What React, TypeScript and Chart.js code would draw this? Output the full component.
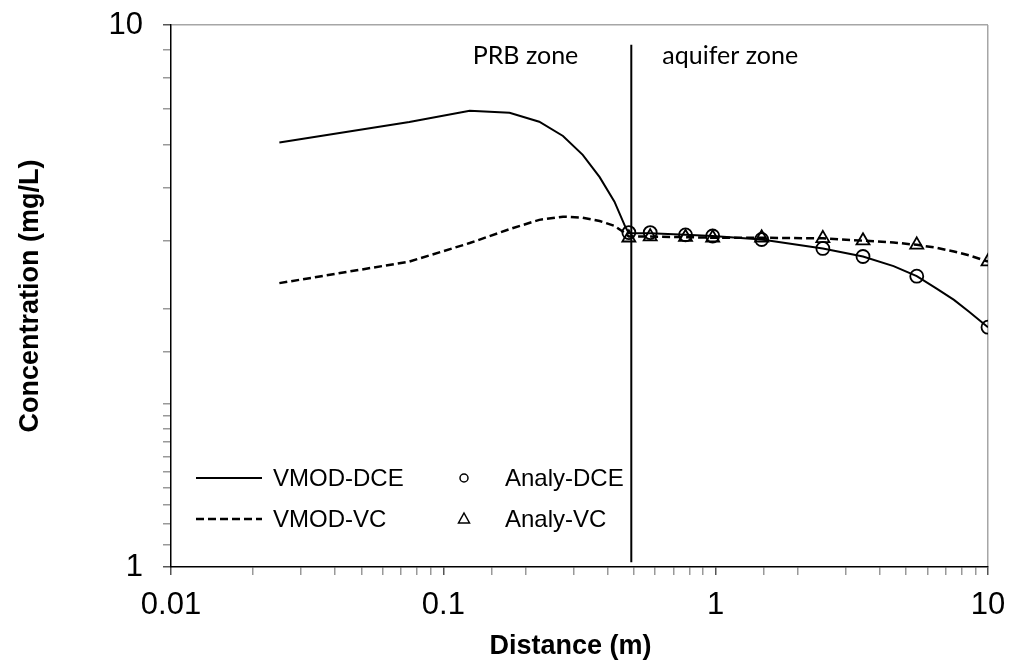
import React, { useEffect, useRef } from "react";
import { Chart, registerables } from "chart.js";
Chart.register(...registerables);

// ---- data ----
const modelX = [0.025, 0.075, 0.125, 0.175, 0.225, 0.275, 0.325, 0.375, 0.425, 0.465, 0.48, 0.575, 0.775, 0.975, 1.475, 2.475, 3.475, 4.5, 5.475, 6.5, 7.5, 8.5, 10];
const vmodDce = [6.07, 6.62, 6.95, 6.89, 6.63, 6.24, 5.76, 5.24, 4.72, 4.25, 4.13, 4.13, 4.1, 4.08, 4.02, 3.87, 3.74, 3.59, 3.44, 3.26, 3.11, 2.96, 2.77];
const vmodVc = [3.34, 3.66, 3.96, 4.2, 4.37, 4.43, 4.41, 4.35, 4.26, 4.13, 4.07, 4.07, 4.06, 4.05, 4.05, 4.04, 4.0, 3.97, 3.93, 3.88, 3.82, 3.76, 3.66];
const analyX = [0.48, 0.575, 0.775, 0.975, 1.475, 2.475, 3.475, 5.475, 10];
const analyDce = [4.14, 4.14, 4.1, 4.08, 4.02, 3.87, 3.74, 3.44, 2.77];
const analyVc = [4.05, 4.07, 4.06, 4.05, 4.05, 4.04, 4.0, 3.93, 3.66];
const xTickLabels = [0.01, 0.1, 1, 10];
const yTickLabels = [1, 10];
const boundaryX = 0.49;
const boundaryY = [1.02, 9.2];
const zoneLabels = ["PRB zone", "aquifer zone"];
const seriesNames = ["VMOD-DCE", "VMOD-VC", "Analy-DCE", "Analy-VC"];
const xTitle = "Distance (m)";
const yTitle = "Concentration (mg/L)";

const pts = (xs: number[], ys: number[]) => xs.map((x, i) => ({ x, y: ys[i] }));
const isPow10 = (v: number) => Math.abs(Math.log10(v) - Math.round(Math.log10(v))) < 1e-6;
const fmt = (v: number) => String(parseFloat(v.toPrecision(6)));
const hasLabel = (v: number, list: number[]) => list.some((t) => Math.abs(Math.log10(t) - Math.log10(v)) < 1e-6);

const overlayPlugin = {
  id: "overlay",
  afterDatasetsDraw(chart: any) {
    const ctx = chart.ctx;
    const ca = chart.chartArea;
    const bx = chart.scales.x.getPixelForValue(boundaryX);
    ctx.save();
    ctx.fillStyle = "#000";
    ctx.font = "25px Lato, 'Open Sans', sans-serif";
    ctx.textBaseline = "alphabetic";
    ctx.textAlign = "right";
    ctx.fillText(zoneLabels[0], bx - 53, ca.top + 39);
    ctx.textAlign = "left";
    ctx.fillText(zoneLabels[1], bx + 31, ca.top + 39);

    // x-axis title
    ctx.font = "bold 27px Arial, 'Liberation Sans', sans-serif";
    ctx.textAlign = "center";
    ctx.fillText(xTitle, (ca.left + ca.right) / 2 - 9, ca.bottom + 87);

    // legend
    const r1 = ca.bottom - 89;
    const r2 = ca.bottom - 48;
    const l0 = ca.left + 25;
    const l1 = ca.left + 91;
    const mx = ca.left + 293;
    ctx.font = "24px Arial, 'Liberation Sans', sans-serif";
    ctx.textBaseline = "middle";
    ctx.textAlign = "left";
    ctx.strokeStyle = "#000";
    ctx.lineWidth = 2;
    ctx.beginPath();
    ctx.moveTo(l0, r1);
    ctx.lineTo(l1, r1);
    ctx.stroke();
    ctx.lineWidth = 2.5;
    ctx.setLineDash([8, 4]);
    ctx.beginPath();
    ctx.moveTo(l0, r2);
    ctx.lineTo(l1, r2);
    ctx.stroke();
    ctx.setLineDash([]);
    ctx.fillText(seriesNames[0], ca.left + 102, r1 + 1);
    ctx.fillText(seriesNames[1], ca.left + 102, r2 + 1);
    ctx.lineWidth = 1.5;
    ctx.beginPath();
    ctx.arc(mx, r1, 4, 0, Math.PI * 2);
    ctx.stroke();
    ctx.beginPath();
    ctx.moveTo(mx, r2 - 6);
    ctx.lineTo(mx + 5.5, r2 + 4);
    ctx.lineTo(mx - 5.5, r2 + 4);
    ctx.closePath();
    ctx.stroke();
    ctx.fillText(seriesNames[2], ca.left + 334, r1 + 1);
    ctx.fillText(seriesNames[3], ca.left + 334, r2 + 1);
    ctx.restore();
  },
};

export default function App() {
  const ref = useRef<HTMLCanvasElement>(null);
  useEffect(() => {
    if (!ref.current) return;
    const chart = new Chart(ref.current, {
      type: "scatter",
      data: {
        datasets: [
          {
            label: seriesNames[2],
            data: pts(analyX, analyDce),
            showLine: false,
            pointStyle: "circle",
            pointRadius: 6.5,
            borderColor: "#000",
            backgroundColor: "rgba(0,0,0,0)",
            borderWidth: 1.8,
            order: 1,
          },
          {
            label: seriesNames[3],
            data: pts(analyX, analyVc),
            showLine: false,
            pointStyle: "triangle",
            pointRadius: 7.5,
            borderColor: "#000",
            backgroundColor: "rgba(0,0,0,0)",
            borderWidth: 1.8,
            order: 0,
          },
          {
            label: seriesNames[0],
            data: pts(modelX, vmodDce),
            showLine: true,
            pointRadius: 0,
            borderColor: "#000",
            borderWidth: 2,
            tension: 0,
            order: 3,
          },
          {
            label: seriesNames[1],
            data: pts(modelX, vmodVc),
            showLine: true,
            pointRadius: 0,
            borderColor: "#000",
            borderWidth: 2.5,
            borderDash: [8, 4],
            tension: 0,
            order: 2,
          },
          {
            label: "boundary",
            data: boundaryY.map((y) => ({ x: boundaryX, y })),
            showLine: true,
            pointRadius: 0,
            borderColor: "#000",
            borderWidth: 2,
            order: 4,
          },
        ],
      },
      options: {
        animation: false,
        responsive: false,
        layout: { padding: { top: 25, right: 23, left: 0, bottom: 0 } },
        plugins: { legend: { display: false }, tooltip: { enabled: false } },
        scales: {
          x: {
            type: "logarithmic",
            min: 0.01,
            max: 10,
            afterFit: (s: any) => {
              s.height = 94;
              s.paddingLeft = 0;
              s.paddingRight = 0;
            },
            border: { display: true, color: "#000", width: 1.5 },
            grid: {
              drawOnChartArea: true,
              color: (c: any) => (c.tick && Math.abs(c.tick.value - 10) < 1e-6 ? "#a6a6a6" : "rgba(0,0,0,0)"),
              tickColor: (c: any) => (c.tick && isPow10(c.tick.value) ? "#555" : "#999"),
              tickLength: 8,
              lineWidth: 1.5,
            },
            ticks: {
              autoSkip: false,
              maxRotation: 0,
              padding: 12,
              color: "#000",
              font: { family: "Arial, 'Liberation Sans', sans-serif", size: 31 },
              callback: (v: any) => (hasLabel(Number(v), xTickLabels) ? fmt(Number(v)) : ""),
            },
            title: { display: false },
          },
          y: {
            type: "logarithmic",
            min: 1,
            max: 10,
            afterFit: (s: any) => {
              s.width = 171;
              s.paddingTop = 0;
              s.paddingBottom = 0;
            },
            border: { display: true, color: "#000", width: 1.5 },
            grid: {
              drawOnChartArea: true,
              color: (c: any) => (c.tick && Math.abs(c.tick.value - 10) < 1e-6 ? "#a6a6a6" : "rgba(0,0,0,0)"),
              tickColor: (c: any) => (c.tick && isPow10(c.tick.value) ? "#555" : "#999"),
              tickLength: 8,
              lineWidth: 1.5,
            },
            ticks: {
              autoSkip: false,
              padding: 20,
              color: "#000",
              font: { family: "Arial, 'Liberation Sans', sans-serif", size: 31 },
              callback: (v: any) => (hasLabel(Number(v), yTickLabels) ? fmt(Number(v)) : ""),
            },
            title: {
              display: true,
              text: yTitle,
              color: "#000",
              font: { family: "Arial, 'Liberation Sans', sans-serif", size: 27, weight: "bold" },
              padding: { top: 14, bottom: 0 },
            },
          },
        },
      },
      plugins: [overlayPlugin],
    } as any);
    return () => chart.destroy();
  }, []);
  return (
    <div style={{ position: "absolute", left: 0, top: 0, width: 1011, height: 661, background: "#fff" }}>
      <canvas ref={ref} width={1011} height={661} />
    </div>
  );
}
